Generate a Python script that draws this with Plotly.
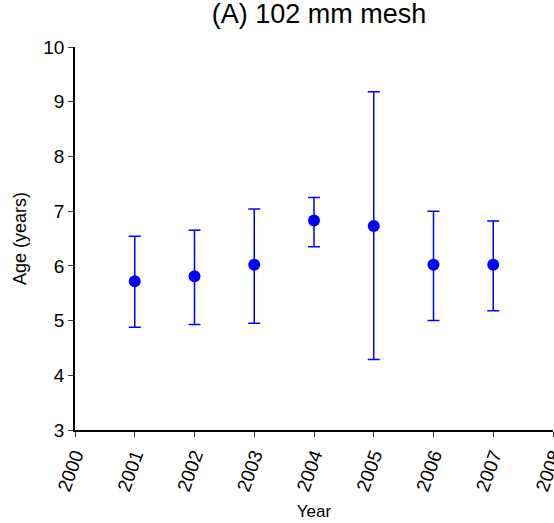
import plotly.graph_objects as go

years = [2001, 2002, 2003, 2004, 2005, 2006, 2007]
age_mean = [5.72, 5.81, 6.02, 6.83, 6.73, 6.02, 6.02]
age_upper = [6.54, 6.65, 7.04, 7.25, 9.18, 7.00, 6.82]
age_lower = [4.88, 4.93, 4.95, 6.35, 4.29, 5.00, 5.18]

err_plus = [u - m for u, m in zip(age_upper, age_mean)]
err_minus = [m - l for m, l in zip(age_mean, age_lower)]

fig = go.Figure()
fig.add_trace(go.Scatter(
    x=years, y=age_mean, mode="markers",
    marker=dict(color="#0000FF", size=12),
    error_y=dict(type="data", symmetric=False, array=err_plus, arrayminus=err_minus,
                 color="#0000FF", thickness=1.5, width=6),
    showlegend=False,
))

fig.update_layout(
    width=554, height=523, autosize=False,
    paper_bgcolor="white", plot_bgcolor="white",
    margin=dict(l=75, r=1, t=47, b=93),
    font=dict(family="Arial, Liberation Sans, sans-serif", color="black", size=18),
    title=dict(text="(A) 102 mm mesh", x=0.576, xanchor="center", y=0.992, yanchor="top",
               font=dict(size=27)),
)
fig.update_xaxes(
    range=[2000, 2008], tickmode="linear", tick0=2000, dtick=1, tickangle=-70,
    tickfont=dict(size=19), automargin=False, ticklabeloverflow="allow",
    showline=True, linecolor="black", linewidth=1.5, ticks="outside", ticklen=5,
    tickcolor="#333", showgrid=False, zeroline=False,
    title=dict(text="Year", font=dict(size=17), standoff=12),
)
fig.update_yaxes(
    range=[3, 10], tickmode="linear", tick0=3, dtick=1,
    tickfont=dict(size=19), automargin=False,
    showline=True, linecolor="black", linewidth=1.5, ticks="outside", ticklen=5,
    tickcolor="#333", showgrid=False, zeroline=False,
    title=dict(text="Age (years)", font=dict(size=18), standoff=12),
)

post = ("document.body.style.margin='0';document.body.style.overflow='hidden';"
        "Plotly.relayout(document.getElementById('{plot_id}'), {width:554, height:523});")
fig.write_html("out.html", post_script=post,
               config={"responsive": False, "displayModeBar": False})
